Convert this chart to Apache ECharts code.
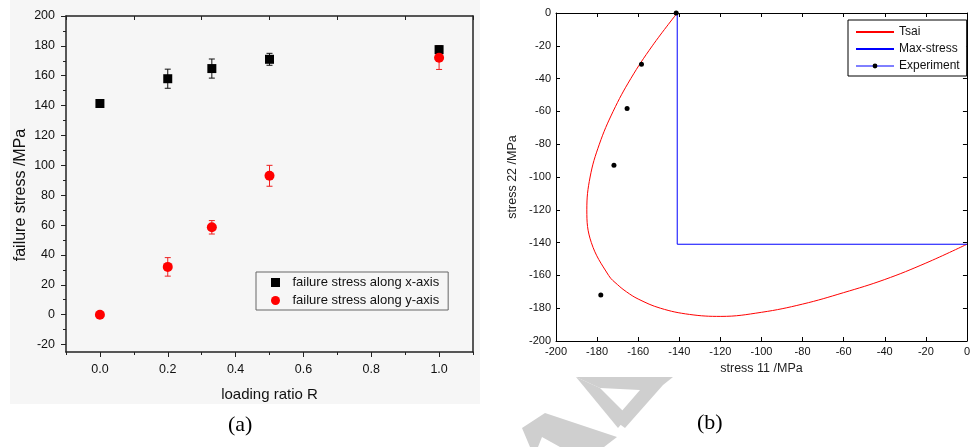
<!DOCTYPE html>
<html>
<head>
  <meta charset="utf-8" />
  <script src="https://cdn.jsdelivr.net/npm/echarts@6/dist/echarts.min.js"></script>
  <style>
    html, body { margin: 0; width: 100%; height: 100%; background: #fff; }
    #main { width: 973px; height: 447px; }
  </style>
</head>
<body>
<div id="main"></div>
<script>
  // (a) failure stress vs loading ratio
  const ratio = [0, 0.2, 0.33, 0.5, 1.0];
  const stressAlongX = [141.4, 158, 164.8, 171, 177.5];
  const errAlongX = [1.5, 6.4, 6.4, 4, 2.5];
  const stressAlongY = [0, 32, 58.5, 93, 172];
  const errAlongY = [0.8, 6.2, 4.5, 7, 7.8];
  const ratioLabels = [0, 0.2, 0.4, 0.6, 0.8, 1.0];
  const ratioMinor = [-0.1, 0.1, 0.3, 0.5, 0.7, 0.9, 1.1];
  const stressLabels = [-20, 0, 20, 40, 60, 80, 100, 120, 140, 160, 180, 200];
  const stressMinor = [-10, 10, 30, 50, 70, 90, 110, 130, 150, 170, 190];

  // (b) failure envelope
  const tsaiS11 = [-141, -153.1, -163.6, -172.2, -178.9, -183.4, -185, -182.8, -174.4, -170, -165.7, -160, -149.2, -135, -119.8, -100, -80, -60, -40, -20, 0];
  const tsaiS22 = [0, -20, -40, -60, -80, -100, -120, -140, -160, -165.7, -170, -174.4, -180, -183.8, -185, -182.5, -177.5, -170.5, -162.5, -152.5, -141];
  const maxS11 = [-141, -141, 0];
  const maxS22 = [0, -141, -141];
  const expS11 = [-141.5, -158.4, -165.4, -171.8, -178.2];
  const expS22 = [0, -31.2, -58.3, -92.9, -172];

  const zip = (a, b, c) => a.map((v, i) => c ? [v, b[i], c[i]] : [v, b[i]]);

  function errorBar(color) {
    return function (params, api) {
      const x = api.value(0), y = api.value(1), e = api.value(2);
      const top = api.coord([x, y + e]);
      const bot = api.coord([x, y - e]);
      const w = 3;
      const style = { stroke: color, lineWidth: 1 };
      return {
        type: 'group',
        children: [
          { type: 'line', shape: { x1: top[0], y1: top[1], x2: bot[0], y2: bot[1] }, style: style },
          { type: 'line', shape: { x1: top[0] - w, y1: top[1], x2: top[0] + w, y2: top[1] }, style: style },
          { type: 'line', shape: { x1: bot[0] - w, y1: bot[1], x2: bot[0] + w, y2: bot[1] }, style: style }
        ]
      };
    };
  }

  const font = 'Liberation Sans, Arial, sans-serif';
  const blank = { show: false };
  const noZero = { show: false, onZero: false };

  const chart = echarts.init(document.getElementById('main'), null, { renderer: 'canvas' });

  const option = {
    animation: false,
    backgroundColor: '#fff',
    graphic: [
      { type: 'rect', z: -10, shape: { x: 10, y: 0, width: 470, height: 404 }, style: { fill: '#f6f6f6' } },
      // watermark fragments
      { type: 'polygon', z: -5, shape: { points: [[576, 377], [673, 377], [663, 385], [625, 428], [614, 420], [640, 390], [600, 388]] }, style: { fill: '#cfcfcf' } },
      { type: 'polygon', z: -5, shape: { points: [[576, 377], [600, 388], [628, 416], [618, 428]] }, style: { fill: '#cfcfcf' } },
      { type: 'polygon', z: -5, shape: { points: [[522, 428], [545, 413], [617, 437], [604, 447], [560, 447], [542, 437], [538, 447], [530, 447]] }, style: { fill: '#cfcfcf' } },
      { type: 'text', left: 228, top: 414, style: { text: '(a)', font: '22px "Liberation Serif", "Times New Roman", serif', fill: '#000' } },
      { type: 'text', left: 697, top: 412, style: { text: '(b)', font: '22px "Liberation Serif", "Times New Roman", serif', fill: '#000' } }
    ],
    grid: [
      { left: 66, top: 16, width: 407, height: 336 },
      { left: 556, top: 13, width: 416, height: 328 }
    ],
    legend: [
      {
        data: [
          { name: 'failure stress along x-axis', icon: 'path://M0,0h10v10h-10z' },
          { name: 'failure stress along y-axis', icon: 'path://M5,0A5,5,0,1,1,5,10A5,5,0,1,1,5,0z' }
        ],
        orient: 'vertical', left: 256, top: 272,
        borderColor: '#666', borderWidth: 1, borderRadius: 0,
        backgroundColor: '#f6f6f6',
        padding: [4, 9, 3, 15], itemGap: 5, itemWidth: 24, itemHeight: 9,
        textStyle: { fontFamily: font, fontSize: 13, color: '#111' }
      },
      {
        data: [
          { name: 'Tsai', itemStyle: { opacity: 0 } },
          { name: 'Max-stress', itemStyle: { opacity: 0 } },
          { name: 'Experiment', lineStyle: { color: '#0000ff', width: 1, opacity: 1 } }
        ],
        orient: 'vertical', left: 848, top: 20,
        borderColor: '#000', borderWidth: 1, borderRadius: 0,
        backgroundColor: '#fff',
        padding: [6, 7, 4, 7], itemGap: 5, itemWidth: 38, itemHeight: 6,
        textStyle: { fontFamily: font, fontSize: 12, color: '#111' }
      }
    ],
    xAxis: [
      {
        gridIndex: 0, type: 'value', position: 'bottom', min: -0.1, max: 1.1,
        name: 'loading ratio R', nameLocation: 'middle', nameGap: 35,
        nameTextStyle: { fontFamily: font, fontSize: 15, color: '#111' },
        axisLine: { onZero: false, lineStyle: { color: '#222', width: 1.5 } },
        axisTick: { inside: false, length: 5, customValues: ratioLabels, lineStyle: { color: '#222' } },
        axisLabel: { customValues: ratioLabels, formatter: v => v.toFixed(1), margin: 11, fontFamily: font, fontSize: 12.5, color: '#111' },
        splitLine: blank
      },
      {
        gridIndex: 0, type: 'value', position: 'bottom', offset: 0, min: -0.1, max: 1.1,
        axisLine: noZero,
        axisTick: { inside: false, length: 3, customValues: ratioMinor, lineStyle: { color: '#222' } },
        axisLabel: blank, splitLine: blank
      },
      {
        gridIndex: 0, type: 'value', position: 'top', min: -0.1, max: 1.1,
        axisLine: { onZero: false, lineStyle: { color: '#222', width: 1.5 } },
        axisTick: { inside: true, length: 4, customValues: ratioMinor, lineStyle: { color: '#222' } },
        axisLabel: blank, splitLine: blank
      },
      {
        gridIndex: 1, type: 'value', position: 'bottom', min: -200, max: 0, interval: 20,
        name: 'stress 11 /MPa', nameLocation: 'middle', nameGap: 21,
        nameTextStyle: { fontFamily: font, fontSize: 12.5, color: '#222' },
        axisLine: { onZero: false, lineStyle: { color: '#000', width: 1 } },
        axisTick: { inside: true, length: 4, lineStyle: { color: '#000' } },
        axisLabel: { margin: 5, fontFamily: font, fontSize: 11, color: '#111' },
        splitLine: blank
      },
      {
        gridIndex: 1, type: 'value', position: 'top', min: -200, max: 0, interval: 20,
        axisLine: { onZero: false, lineStyle: { color: '#000', width: 1 } },
        axisTick: { inside: true, length: 4, lineStyle: { color: '#000' } },
        axisLabel: blank, splitLine: blank
      }
    ],
    yAxis: [
      {
        gridIndex: 0, type: 'value', position: 'left', min: -25, max: 200,
        name: 'failure stress /MPa', nameLocation: 'middle', nameGap: 37, nameRotate: 90,
        nameTextStyle: { fontFamily: font, fontSize: 16, color: '#111', padding: [0, 22, 0, 0] },
        axisLine: { onZero: false, lineStyle: { color: '#222', width: 1.5 } },
        axisTick: { inside: false, length: 5, customValues: stressLabels, lineStyle: { color: '#222' } },
        axisLabel: { customValues: stressLabels, margin: 11, fontFamily: font, fontSize: 12.5, color: '#111' },
        splitLine: blank
      },
      {
        gridIndex: 0, type: 'value', position: 'left', offset: 0, min: -25, max: 200,
        axisLine: noZero,
        axisTick: { inside: false, length: 3, customValues: stressMinor, lineStyle: { color: '#222' } },
        axisLabel: blank, splitLine: blank
      },
      {
        gridIndex: 0, type: 'value', position: 'right', min: -25, max: 200,
        axisLine: { onZero: false, lineStyle: { color: '#222', width: 1.5 } },
        axisTick: blank, axisLabel: blank, splitLine: blank
      },
      {
        gridIndex: 1, type: 'value', position: 'left', min: -200, max: 0, interval: 20,
        name: 'stress 22 /MPa', nameLocation: 'middle', nameGap: 37, nameRotate: 90,
        nameTextStyle: { fontFamily: font, fontSize: 12.5, color: '#222' },
        axisLine: { onZero: false, lineStyle: { color: '#000', width: 1 } },
        axisTick: { inside: true, length: 4, lineStyle: { color: '#000' } },
        axisLabel: { margin: 5, fontFamily: font, fontSize: 11, color: '#111' },
        splitLine: blank
      },
      {
        gridIndex: 1, type: 'value', position: 'right', min: -200, max: 0, interval: 20,
        axisLine: { onZero: false, lineStyle: { color: '#000', width: 1 } },
        axisTick: { inside: true, length: 4, lineStyle: { color: '#000' } },
        axisLabel: blank, splitLine: blank
      }
    ],
    series: [
      {
        name: 'err x', type: 'custom', xAxisIndex: 0, yAxisIndex: 0, z: 2,
        renderItem: errorBar('#111'), encode: { x: 0, y: 1 },
        data: zip(ratio, stressAlongX, errAlongX)
      },
      {
        name: 'err y', type: 'custom', xAxisIndex: 0, yAxisIndex: 0, z: 2,
        renderItem: errorBar('#ee2020'), encode: { x: 0, y: 1 },
        data: zip(ratio, stressAlongY, errAlongY)
      },
      {
        name: 'failure stress along x-axis', type: 'scatter', xAxisIndex: 0, yAxisIndex: 0, z: 3,
        symbol: 'rect', symbolSize: 9, itemStyle: { color: '#000', opacity: 1 },
        data: zip(ratio, stressAlongX)
      },
      {
        name: 'failure stress along y-axis', type: 'scatter', xAxisIndex: 0, yAxisIndex: 0, z: 3,
        symbol: 'circle', symbolSize: 10, itemStyle: { color: '#ff0000', opacity: 1 },
        data: zip(ratio, stressAlongY)
      },
      {
        name: 'Tsai', type: 'line', xAxisIndex: 3, yAxisIndex: 3,
        smooth: 0.4, symbol: 'none', clip: true,
        lineStyle: { color: '#ff0000', width: 1 }, itemStyle: { color: '#ff0000' },
        data: zip(tsaiS11, tsaiS22)
      },
      {
        name: 'Max-stress', type: 'line', xAxisIndex: 3, yAxisIndex: 3,
        symbol: 'none', clip: true,
        lineStyle: { color: '#0000ff', width: 1 }, itemStyle: { color: '#0000ff' },
        data: zip(maxS11, maxS22)
      },
      {
        name: 'Experiment', type: 'line', xAxisIndex: 3, yAxisIndex: 3, z: 4,
        symbol: 'circle', symbolSize: 5, showSymbol: true,
        lineStyle: { width: 0, color: '#0000ff' }, itemStyle: { color: '#000' },
        data: zip(expS11, expS22)
      }
    ]
  };

  chart.setOption(option);
</script>
</body>
</html>
